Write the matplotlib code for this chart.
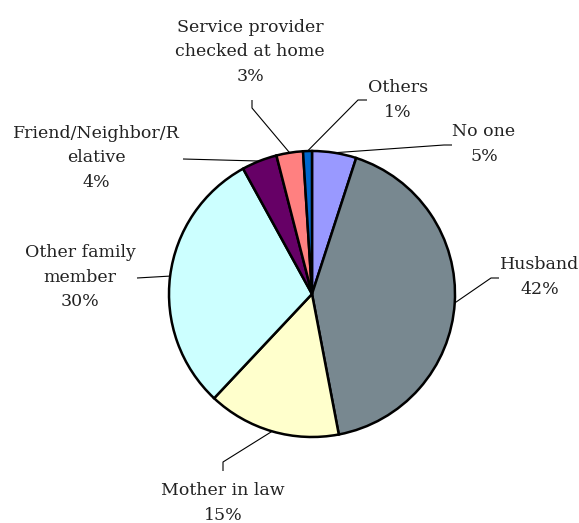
import numpy as np
import matplotlib
matplotlib.use("Agg")
import matplotlib.pyplot as plt

# data
labels = ["No one", "Husband", "Mother in law", "Other family\nmember",
          "Friend/Neighbor/R\nelative", "Service provider\nchecked at home", "Others"]
values = [5, 42, 15, 30, 4, 3, 1]
colors = ["#9999FF", "#788890", "#FFFFCC", "#CCFFFF", "#660066", "#FF8080", "#0066CC"]

# label layout in pixel coords (text centre, elbow start, elbow end)
W, H = 579, 523
text_pos = [(484, 144), (540, 277), (223, 503), (80, 277), (96, 158), (250, 52), (398, 100)]
elbows = [[(452, 145), (444, 145)],
          [(499, 278), (491, 278)],
          [(223, 471), (223, 462)],
          [(137, 278)],
          [(183, 159)],
          [(252, 100), (252, 108)],
          [(367, 100), (358, 100)]]

cx, cy, r = 312, 294, 143

fig = plt.figure(figsize=(W / 100, H / 100), dpi=100)
ax = fig.add_axes([0, 0, 1, 1])

wedges, _ = ax.pie(values, colors=colors, startangle=90, counterclock=False,
                   center=(cx, H - cy), radius=r,
                   wedgeprops=dict(edgecolor="black", linewidth=1.8))
ax.set_xlim(0, W)
ax.set_ylim(0, H)
ax.set_aspect("equal")
ax.axis("off")

total = float(sum(values))
cum = np.cumsum([0] + values[:-1])
for i, (lab, v) in enumerate(zip(labels, values)):
    frac = (cum[i] + v / 2) / total
    theta = np.deg2rad(90 - 360 * frac)
    px = cx + r * np.cos(theta)
    py = cy - r * np.sin(theta)
    pts = elbows[i] + [(px, py)]
    xs = [p[0] for p in pts]
    ys = [H - p[1] for p in pts]
    ax.plot(xs, ys, color="black", linewidth=0.8, solid_capstyle="butt")
    tx, ty = text_pos[i]
    ax.text(tx, H - ty, f"{lab}\n{v}%", ha="center", va="center",
            fontsize=12.5, family="DejaVu Serif", linespacing=1.6,
            color="#222222")

fig.savefig("out.png", dpi=100)
